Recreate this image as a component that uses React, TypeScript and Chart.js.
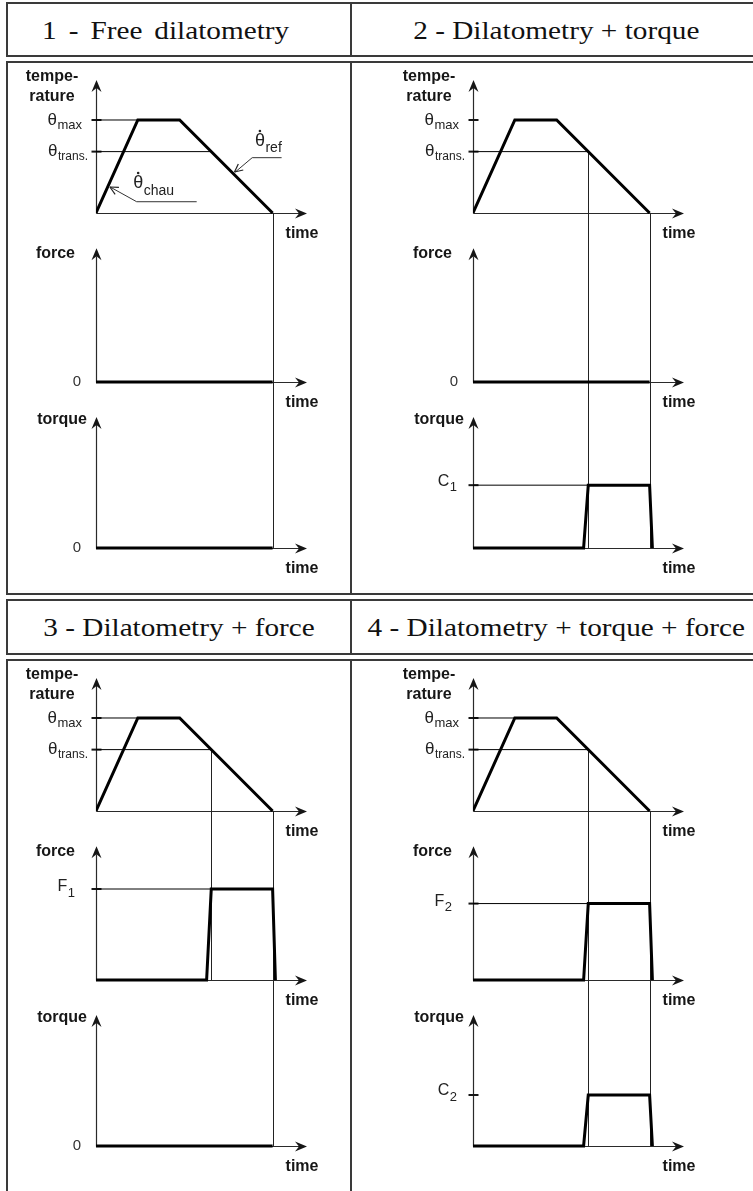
import React, { useEffect, useRef } from "react";
import { Chart, registerables } from "chart.js";

Chart.register(...registerables);

// ---------------- data ----------------
const panelTitles = [
  "1 - Free dilatometry",
  "2 - Dilatometry + torque",
  "3 - Dilatometry + force",
  "4 - Dilatometry + torque + force",
];
const heatCycleTime = [0, 4.5, 9, 19];
const heatCycleTemp = [0, 100, 100, 0];
const thetaMax = 100;
const thetaTrans = 66;
const transTime = 12.4;
const endTime = 19;
const timeAxisEnd = 22.7;
const pulseTime = [0, 11.9, 12.4, 19, 19.3];
const forceLevel = [0, 0, 100, 84];
const torqueLevel = [0, 69, 0, 56];
const forceLevelName = ["", "", "1", "2"];
const torqueLevelName = ["", "1", "", "2"];
const showMaxGuide = [true, false, true, true];
const showForceGuide = [false, false, true, true];
const showTorqueGuide = [false, true, false, false];
const transDrop = ["", "yC", "yF", "yC"];
const axisTop: Record<string, number> = { yT: 143, yF: 147, yC: 144 };
const rateNames = ["ref", "chau"];
const rateTime = [14.73, 1.31];
const rateTemp = [42.7, 29];

// ---------------- layout / style ----------------
const yRanges: Record<string, number[]> = {
  yT: [-394.6, 151.6],
  yF: [-217.6, 340.7],
  yC: [-35.2, 523],
};
const SANS = "'Liberation Sans', Arial, Helvetica, sans-serif";
const SERIF = "'Liberation Serif', 'Times New Roman', serif";
const INK = "#161616";
const titleShift = [-13, 4, 0, 4];
const titleWordSpacing = [4, 0, 0, 0];

function seg(ctx: CanvasRenderingContext2D, x1: number, y1: number, x2: number, y2: number, w = 1, c = INK) {
  ctx.save();
  ctx.strokeStyle = c;
  ctx.lineWidth = w;
  ctx.beginPath();
  ctx.moveTo(x1, y1);
  ctx.lineTo(x2, y2);
  ctx.stroke();
  ctx.restore();
}
function arrowRight(ctx: CanvasRenderingContext2D, x: number, y: number) {
  ctx.beginPath();
  ctx.moveTo(x, y);
  ctx.lineTo(x - 12, y - 5);
  ctx.lineTo(x - 8, y);
  ctx.lineTo(x - 12, y + 5);
  ctx.closePath();
  ctx.fill();
}
function arrowUp(ctx: CanvasRenderingContext2D, x: number, y: number) {
  ctx.beginPath();
  ctx.moveTo(x, y);
  ctx.lineTo(x - 5, y + 12);
  ctx.lineTo(x, y + 8);
  ctx.lineTo(x + 5, y + 12);
  ctx.closePath();
  ctx.fill();
}
function drawSub(
  ctx: CanvasRenderingContext2D,
  main: string,
  sub: string,
  x: number,
  cy: number,
  align: "left" | "right",
  mainSize = 16,
  subSize = 13,
  subDy = 6
) {
  const mf = `${mainSize}px ${SANS}`;
  const sf = `${subSize}px ${SANS}`;
  ctx.font = mf;
  const wm = ctx.measureText(main).width;
  ctx.font = sf;
  const ws = ctx.measureText(sub).width;
  const start = align === "right" ? x - wm - ws - 0.5 : x;
  ctx.textAlign = "left";
  ctx.textBaseline = "middle";
  ctx.font = mf;
  ctx.fillText(main, start, cy);
  ctx.font = sf;
  ctx.fillText(sub, start + wm + 0.5, cy + subDy);
  return { start, wm };
}

const diagramPlugin = {
  id: "diagram",
  beforeDatasetsDraw(chart: any, _args: any, opts: any) {
    const i: number = opts.panel;
    const ctx: CanvasRenderingContext2D = chart.ctx;
    const xs = chart.scales.x;
    const x0 = Math.round(xs.getPixelForValue(0)) + 0.5;
    const x1 = xs.getPixelForValue(timeAxisEnd);
    ctx.save();
    ctx.fillStyle = INK;
    for (const id of ["yT", "yF", "yC"]) {
      const ys = chart.scales[id];
      const yb = Math.round(ys.getPixelForValue(0)) + 0.5;
      const yt = ys.getPixelForValue(axisTop[id]);
      seg(ctx, x0, yb, x0, yt + 8, 1.2, "#2a2a2a");
      arrowUp(ctx, x0, yt);
      seg(ctx, x0, yb, x1 - 8, yb, 1.2, "#2a2a2a");
      arrowRight(ctx, x1, yb);
    }
    // ticks
    const yT = chart.scales.yT, yF = chart.scales.yF, yC = chart.scales.yC;
    const tick = (y: number) => seg(ctx, x0 - 5, y, x0 + 5, y, 2, INK);
    tick(yT.getPixelForValue(thetaMax));
    tick(yT.getPixelForValue(thetaTrans));
    if (forceLevel[i]) tick(yF.getPixelForValue(forceLevel[i]));
    if (torqueLevel[i]) tick(yC.getPixelForValue(torqueLevel[i]));
    // vertical drop lines
    const xe = Math.round(xs.getPixelForValue(endTime)) + 0.5;
    seg(ctx, xe, yT.getPixelForValue(0), xe, yC.getPixelForValue(0), 1, "#222");
    if (transDrop[i]) {
      const xt = Math.round(xs.getPixelForValue(transTime)) + 0.5;
      seg(ctx, xt, yT.getPixelForValue(thetaTrans), xt, chart.scales[transDrop[i]].getPixelForValue(0), 1, "#222");
    }
    ctx.restore();
  },
  afterDatasetsDraw(chart: any, _args: any, opts: any) {
    const i: number = opts.panel;
    const ctx: CanvasRenderingContext2D = chart.ctx;
    const xs = chart.scales.x;
    const x0 = xs.getPixelForValue(0);
    const x1 = xs.getPixelForValue(timeAxisEnd);
    const yT = chart.scales.yT, yF = chart.scales.yF, yC = chart.scales.yC;
    ctx.save();
    ctx.fillStyle = INK;
    // axis titles
    ctx.font = `bold 16px ${SANS}`;
    ctx.textBaseline = "middle";
    ctx.textAlign = "center";
    const tTop = yT.getPixelForValue(axisTop.yT);
    ctx.fillText("tempe-", x0 - 44, tTop - 3);
    ctx.fillText("rature", x0 - 44, tTop + 17);
    ctx.textAlign = "right";
    ctx.fillText("force", x0 - 21, yF.getPixelForValue(axisTop.yF) + 5);
    ctx.fillText("torque", x0 - 9, yC.getPixelForValue(axisTop.yC) + 3);
    ctx.textAlign = "center";
    for (const s of [yT, yF, yC]) {
      ctx.fillText("time", x1 - 5, s.getPixelForValue(0) + 21);
    }
    // level labels
    ctx.fillStyle = "#222";
    drawSub(ctx, "θ", "max", x0 - 14, yT.getPixelForValue(thetaMax), "right", 17, 13, 5);
    drawSub(ctx, "θ", "trans.", x0 - 8, yT.getPixelForValue(thetaTrans), "right", 17, 12, 5);
    if (forceLevel[i]) drawSub(ctx, "F", forceLevelName[i], x0 - 21, yF.getPixelForValue(forceLevel[i]) - 2, "right", 16, 13, 6);
    else { ctx.font = `15px ${SANS}`; ctx.textAlign = "right"; ctx.fillStyle = "#333"; ctx.fillText("0", x0 - 15, yF.getPixelForValue(0)); }
    ctx.fillStyle = "#222";
    if (torqueLevel[i]) drawSub(ctx, "C", torqueLevelName[i], x0 - 16, yC.getPixelForValue(torqueLevel[i]) - 4, "right", 16, 13, 6);
    else { ctx.font = `15px ${SANS}`; ctx.textAlign = "right"; ctx.fillStyle = "#333"; ctx.fillText("0", x0 - 15, yC.getPixelForValue(0)); }
    // heating / cooling rate annotations (panel 1 only)
    if (i === 0) {
      const specs = [
        { bend: [19.3, -15.6], end: [48.7, -15.6], tx: 22, ty: -31.8, sdy: 6.5 },
        { bend: [28.5, 15.7], end: [88.5, 15.7], tx: 25, ty: -2.5, sdy: 8 },
      ];
      rateNames.forEach((name, k) => {
        const px = xs.getPixelForValue(rateTime[k]);
        const py = yT.getPixelForValue(rateTemp[k]);
        const sp = specs[k];
        const bx = px + sp.bend[0], by = py + sp.bend[1];
        seg(ctx, px + 2, py + (sp.bend[1] > 0 ? 1 : -1), bx, by, 1, "#333");
        seg(ctx, bx, by, px + sp.end[0], py + sp.end[1], 1, "#333");
        // open arrowhead at the tip
        const ang = Math.atan2(by - py, bx - px);
        for (const d of [-0.45, 0.45]) {
          seg(ctx, px + 2 * Math.cos(ang), py + 2 * Math.sin(ang), px + 2 * Math.cos(ang) + 9 * Math.cos(ang + d), py + 2 * Math.sin(ang) + 9 * Math.sin(ang + d), 1.2, "#222");
        }
        ctx.fillStyle = "#222";
        const r = drawSub(ctx, "θ", name, px + sp.tx, py + sp.ty, "left", 18, 14, sp.sdy);
        ctx.beginPath();
        ctx.arc(r.start + r.wm / 2, py + sp.ty - 10.5, 1.3, 0, Math.PI * 2);
        ctx.fill();
      });
    }
    ctx.restore();
  },
};

function lineSet(data: { x: number; y: number }[], yAxisID: string, width: number) {
  return {
    data,
    yAxisID,
    xAxisID: "x",
    showLine: true,
    borderColor: "#000",
    backgroundColor: "#000",
    borderWidth: width,
    pointRadius: 0,
    pointHoverRadius: 0,
    fill: false,
    tension: 0,
    borderJoinStyle: "miter",
    borderCapStyle: "butt",
  };
}

function pulse(level: number) {
  if (!level) return [{ x: 0, y: 0 }, { x: endTime, y: 0 }];
  const shape = [0, 0, level, level, 0];
  return pulseTime.map((t, k) => ({ x: t, y: shape[k] }));
}

function Panel({ index }: { index: number }) {
  const ref = useRef<HTMLCanvasElement>(null);
  const col = index % 2;
  const row = Math.floor(index / 2);
  const left = col ? 352 : 8;
  const width = col ? 401 : 342;
  const top = row ? 660 : 62;
  const height = 530;
  useEffect(() => {
    const datasets: any[] = [
      lineSet(heatCycleTime.map((t, k) => ({ x: t, y: heatCycleTemp[k] })), "yT", 3),
      lineSet(pulse(forceLevel[index]), "yF", 3),
      lineSet(pulse(torqueLevel[index]), "yC", 3),
      lineSet([{ x: 0, y: thetaTrans }, { x: transTime, y: thetaTrans }], "yT", 1),
    ];
    if (showMaxGuide[index]) datasets.push(lineSet([{ x: 0, y: thetaMax }, { x: heatCycleTime[1], y: thetaMax }], "yT", 1));
    if (showForceGuide[index]) datasets.push(lineSet([{ x: 0, y: forceLevel[index] }, { x: pulseTime[2], y: forceLevel[index] }], "yF", 1));
    if (showTorqueGuide[index]) datasets.push(lineSet([{ x: 0, y: torqueLevel[index] }, { x: pulseTime[2], y: torqueLevel[index] }], "yC", 1));
    const scale = (id: string) => ({
      type: "linear",
      axis: "y",
      display: false,
      min: yRanges[id][0],
      max: yRanges[id][1],
    });
    const chart = new Chart(ref.current as HTMLCanvasElement, {
      type: "scatter",
      data: { datasets },
      options: {
        animation: false,
        responsive: false,
        devicePixelRatio: 1,
        events: [],
        layout: { padding: { left: col ? 121 : 88, right: col ? 69 : 43, top: 10, bottom: 12 } },
        scales: {
          x: { type: "linear", display: false, min: 0, max: timeAxisEnd },
          yT: scale("yT"),
          yF: scale("yF"),
          yC: scale("yC"),
        } as any,
        plugins: {
          legend: { display: false },
          tooltip: { enabled: false },
          diagram: { panel: index },
        } as any,
      },
      plugins: [diagramPlugin as any],
    } as any);
    return () => chart.destroy();
  }, [index]);
  return (
    <canvas
      ref={ref}
      width={width}
      height={height}
      style={{ position: "absolute", left, top, width, height }}
    />
  );
}

function Header({ index }: { index: number }) {
  const col = index % 2;
  const row = Math.floor(index / 2);
  return (
    <div
      style={{
        position: "absolute",
        left: col ? 352 : 8,
        top: row ? 601 : 4,
        width: col ? 401 : 342,
        height: 52,
        display: "flex",
        alignItems: "center",
        justifyContent: "center",
      }}
    >
      <span
        style={{
          display: "inline-block",
          fontFamily: SERIF,
          fontSize: 25,
          color: "#111",
          whiteSpace: "nowrap",
          wordSpacing: titleWordSpacing[index],
          transform: `translateX(${titleShift[index]}px) scaleX(1.17)`,
          lineHeight: 1,
        }}
      >
        {panelTitles[index]}
      </span>
    </div>
  );
}

const boxes = [
  [2, 57],
  [61, 595],
  [599, 655],
  [659, 1196],
];

export default function App() {
  return (
    <div
      style={{
        position: "absolute",
        left: 0,
        top: 0,
        width: 753,
        height: 1191,
        overflow: "hidden",
        background: "#fff",
      }}
    >
      {boxes.map(([t, b], k) => (
        <React.Fragment key={k}>
          <div
            style={{
              position: "absolute",
              left: 6,
              top: t,
              width: 800,
              height: b - t,
              boxSizing: "border-box",
              borderLeft: "2px solid #3a3a3a",
              borderTop: "2px solid #3a3a3a",
              borderBottom: "2px solid #3a3a3a",
            }}
          />
          <div style={{ position: "absolute", left: 350, top: t, width: 2, height: b - t, background: "#3a3a3a" }} />
        </React.Fragment>
      ))}
      {[0, 1, 2, 3].map((k) => (
        <Header key={"h" + k} index={k} />
      ))}
      {[0, 1, 2, 3].map((k) => (
        <Panel key={"p" + k} index={k} />
      ))}
    </div>
  );
}
